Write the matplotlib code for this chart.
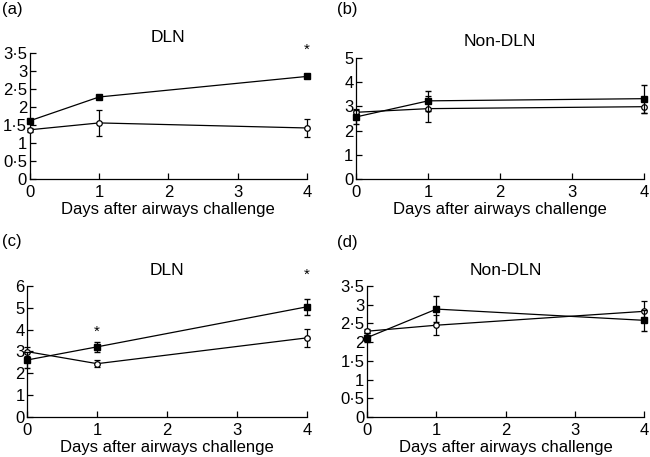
import matplotlib
matplotlib.use("Agg")
import matplotlib.pyplot as plt
from matplotlib.ticker import FuncFormatter, MultipleLocator

plt.rcParams['font.family'] = ['Liberation Sans', 'DejaVu Sans']

days = [0, 1, 4]

# panel (a) DLN
a_filled = [1.62, 2.28, 2.85]
a_filled_err = [0.04, 0.04, 0.04]
a_open = [1.37, 1.56, 1.42]
a_open_err = [0.05, 0.36, 0.25]

# panel (b) Non-DLN
b_filled = [2.56, 3.22, 3.31]
b_filled_err = [0.28, 0.42, 0.57]
b_open = [2.75, 2.90, 2.98]
b_open_err = [0.12, 0.54, 0.25]

# panel (c) DLN
c_filled = [2.61, 3.21, 5.04]
c_filled_err = [0.36, 0.22, 0.36]
c_open = [2.99, 2.44, 3.62]
c_open_err = [0.2, 0.17, 0.42]

# panel (d) Non-DLN
d_filled = [2.12, 2.88, 2.58]
d_filled_err = [0.13, 0.35, 0.28]
d_open = [2.29, 2.45, 2.82]
d_open_err = [0.05, 0.26, 0.27]

panels = [
    ("(a)", "DLN", a_filled, a_filled_err, a_open, a_open_err, 3.5, 0.5, [(4, 3.58)],
     [0.046, 0.608, 0.426, 0.276], (0.003, 0.995)),
    ("(b)", "Non-DLN", b_filled, b_filled_err, b_open, b_open_err, 5, 1, [],
     [0.548, 0.608, 0.443, 0.266], (0.518, 0.995)),
    ("(c)", "DLN", c_filled, c_filled_err, c_open, c_open_err, 6, 1, [(1, 3.88), (4, 6.5)],
     [0.042, 0.0875, 0.430, 0.287], (0.003, 0.488)),
    ("(d)", "Non-DLN", d_filled, d_filled_err, d_open, d_open_err, 3.5, 0.5, [],
     [0.565, 0.0875, 0.426, 0.287], (0.518, 0.485)),
]

fmt = FuncFormatter(lambda v, p: ("%g" % v).replace(".", "\u00b7"))

fig = plt.figure(figsize=(6.5, 4.57), dpi=100)

for label, title, fv, fe, ov, oe, ymax, step, stars, rect, lpos in panels:
    ax = fig.add_axes(rect)
    ax.errorbar(days, ov, yerr=oe, color="black", lw=0.9, marker="o", ms=4,
                mfc="white", mec="black", mew=0.9, capsize=2.5, elinewidth=0.9,
                clip_on=False, zorder=3)
    ax.errorbar(days, fv, yerr=fe, color="black", lw=0.9, marker="s", ms=4.5,
                mfc="black", mec="black", capsize=2.5, elinewidth=0.9,
                clip_on=False, zorder=4)
    for sx, sy in stars:
        ax.text(sx, sy, "*", ha="center", va="center", fontsize=11)
    ax.set_xlim(0, 4)
    ax.set_ylim(0, ymax)
    ax.yaxis.set_major_locator(MultipleLocator(step))
    ax.yaxis.set_major_formatter(fmt)
    ax.set_xticks([0, 1, 2, 3, 4])
    ax.spines["top"].set_visible(False)
    ax.spines["right"].set_visible(False)
    for s in ("left", "bottom"):
        ax.spines[s].set_linewidth(0.9)
    ax.tick_params(direction="in", length=4, width=0.9, labelsize=12)
    ax.tick_params(axis="x", pad=4)
    ax.tick_params(axis="y", pad=2)
    ax.set_xlabel("Days after airways challenge", fontsize=12, labelpad=2)
    ax.set_title(title, fontsize=12.5, pad=8)
    fig.text(lpos[0], lpos[1], label, fontsize=12, va="top", ha="left")

fig.savefig("out.png", dpi=100)
